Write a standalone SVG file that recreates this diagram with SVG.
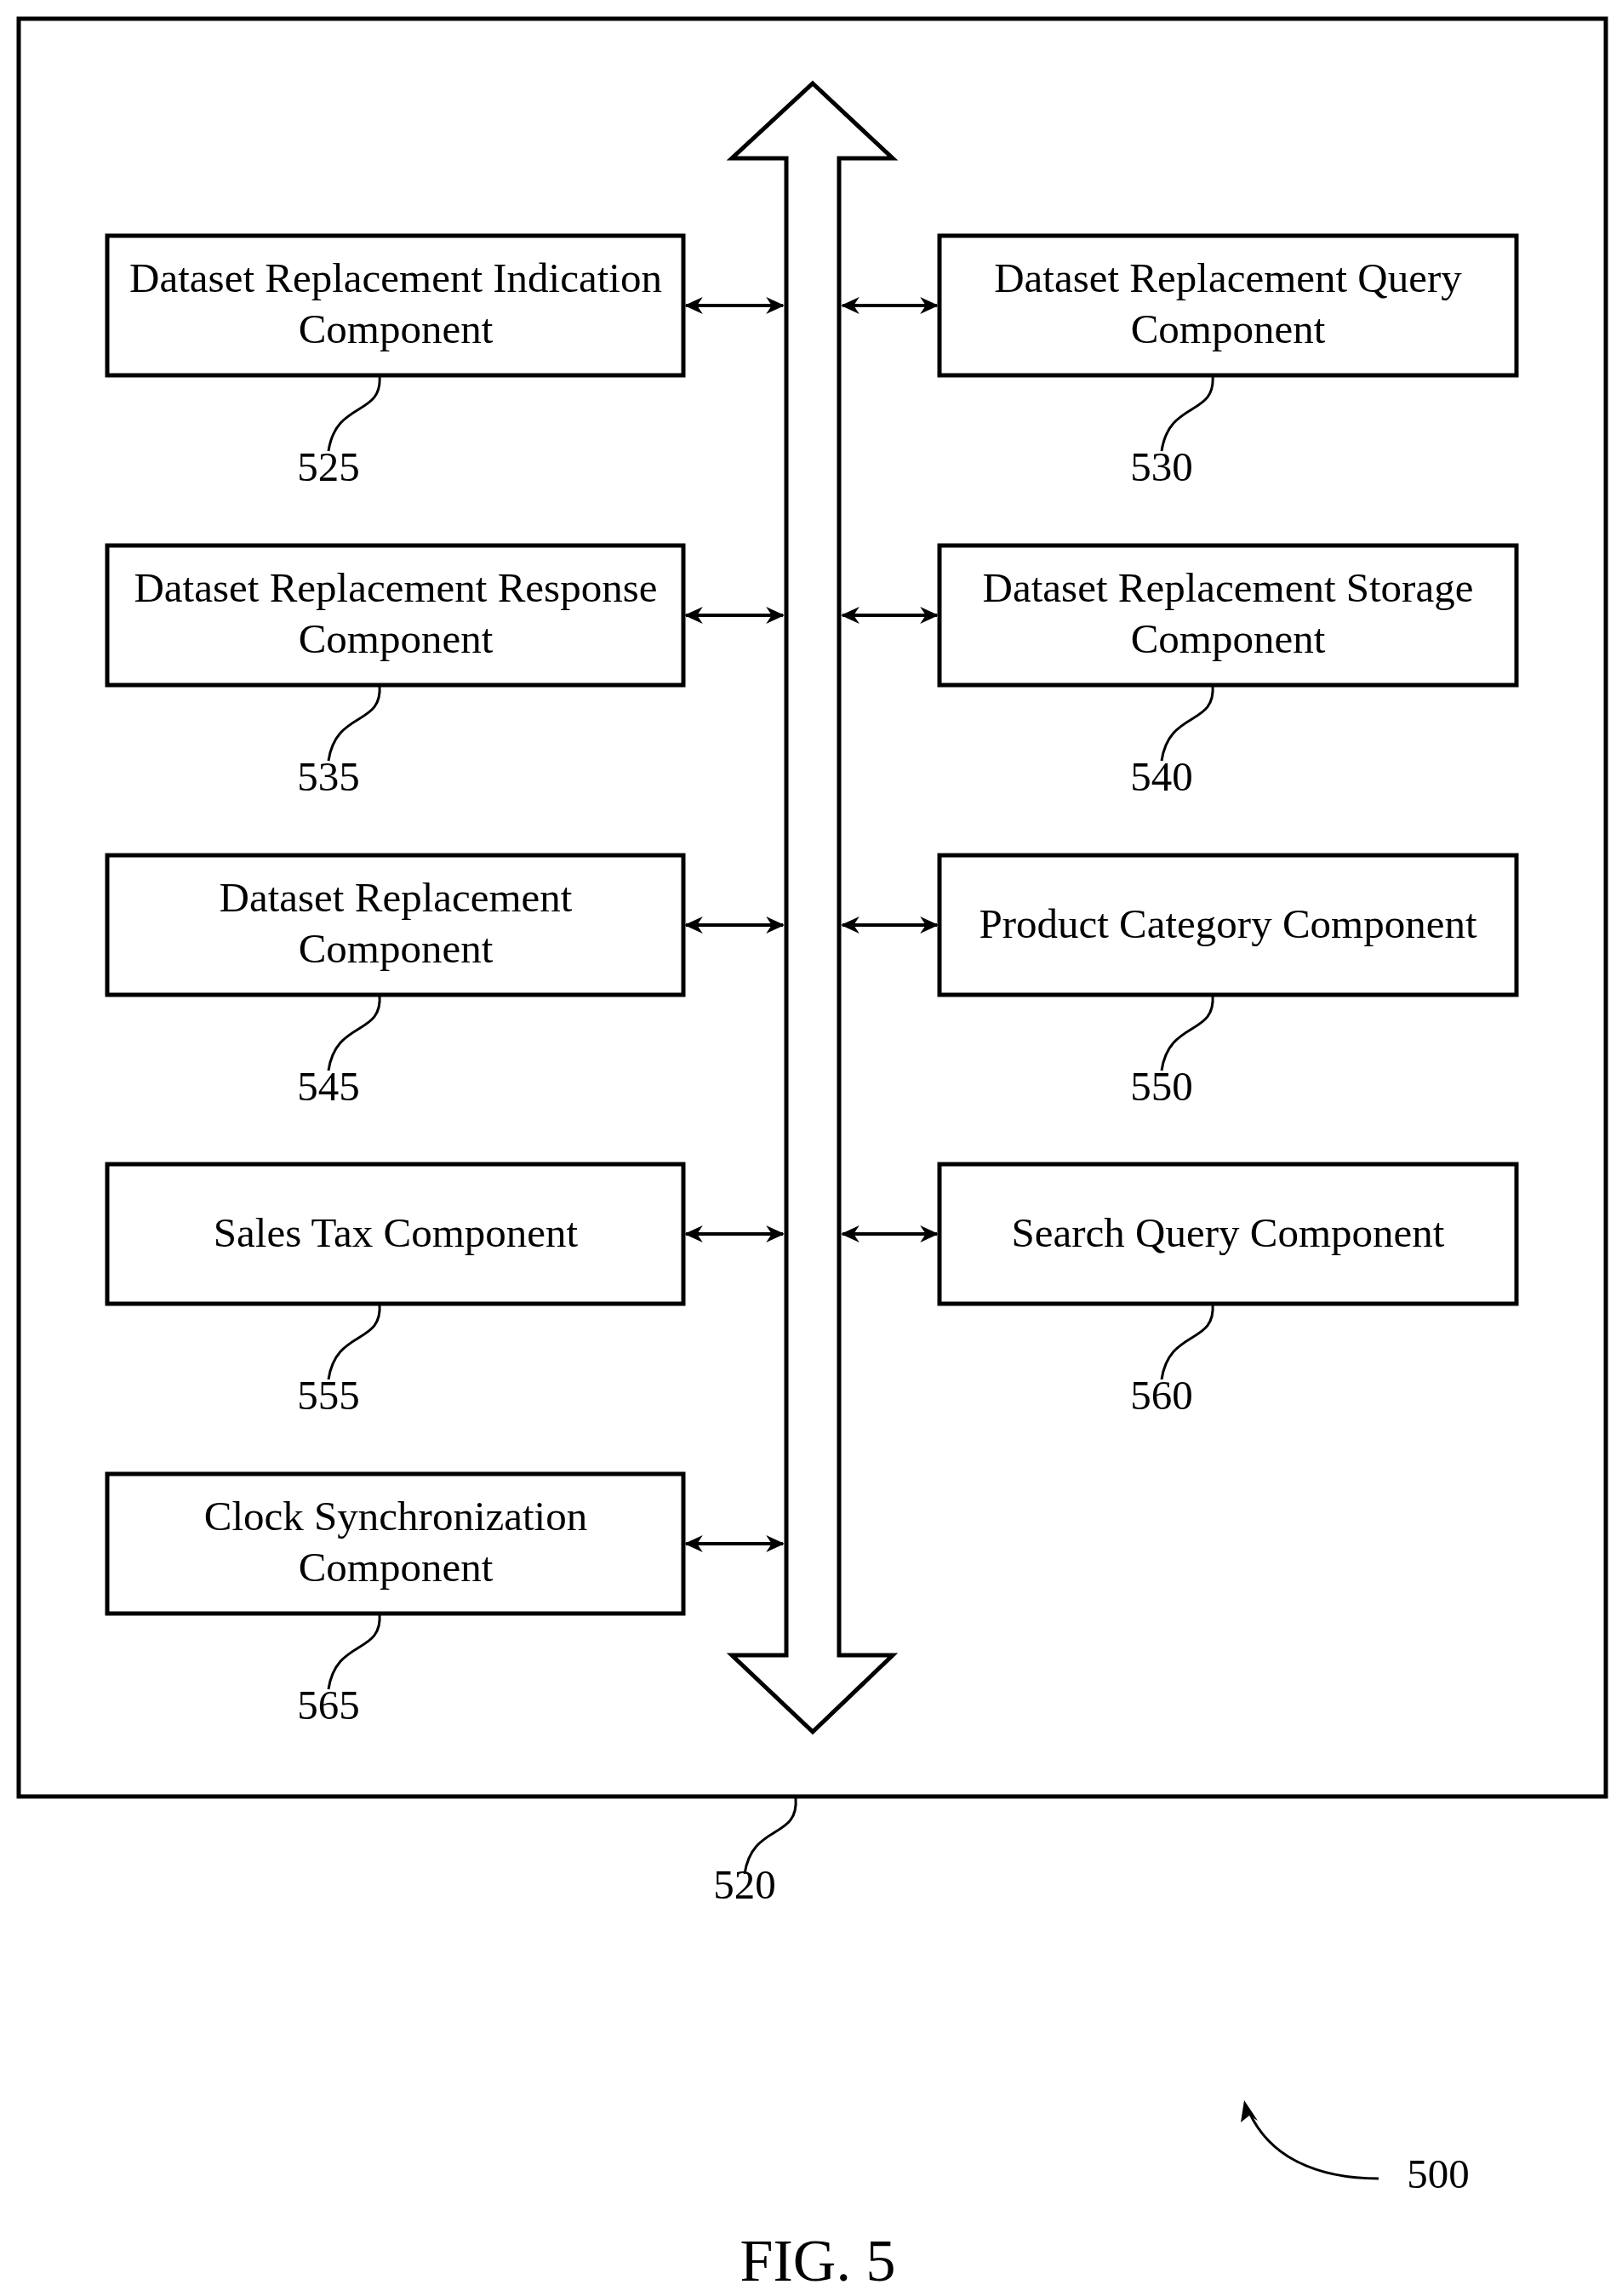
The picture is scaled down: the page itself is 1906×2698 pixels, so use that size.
<svg xmlns="http://www.w3.org/2000/svg" width="1906" height="2698" viewBox="0 0 1906 2698">
<style>
.b{fill:#fff;stroke:#000;stroke-width:5}
.t{font-family:"Liberation Serif",serif;font-size:49px;text-anchor:middle;fill:#000}
.l{fill:none;stroke:#000;stroke-width:3}
.c{stroke:#000;stroke-width:4;marker-start:url(#a);marker-end:url(#a)}
</style>
<defs><marker id="a" viewBox="0 0 20 20" refX="18" refY="10" markerWidth="22" markerHeight="22" orient="auto-start-reverse" markerUnits="userSpaceOnUse"><path d="M0,1 L20,10 L0,19 L6,10 Z"/></marker></defs>
<rect x="22" y="22" width="1865" height="2089" fill="none" stroke="#000" stroke-width="5"/>
<g id="bus"><path d="M955,98 L1049,186 L986,186 L986,1945 L1049,1945 L955,2035 L860,1945 L924,1945 L924,186 L860,186 Z" fill="#fff" stroke="#000" stroke-width="5" stroke-linejoin="miter"/></g>
<g id="connectors">
<line class="c" x1="806" y1="359" x2="920" y2="359"/><line class="c" x1="990" y1="359" x2="1101" y2="359"/>
<line class="c" x1="806" y1="723" x2="920" y2="723"/><line class="c" x1="990" y1="723" x2="1101" y2="723"/>
<line class="c" x1="806" y1="1087" x2="920" y2="1087"/><line class="c" x1="990" y1="1087" x2="1101" y2="1087"/>
<line class="c" x1="806" y1="1450" x2="920" y2="1450"/><line class="c" x1="990" y1="1450" x2="1101" y2="1450"/>
<line class="c" x1="806" y1="1814" x2="920" y2="1814"/>
</g>
<g id="n525"><rect class="b" x="126" y="277" width="677" height="164"/><text class="t" x="465" y="343">Dataset Replacement Indication</text><text class="t" x="465" y="403">Component</text><path class="l" d="M446,441 C450,490 395,470 386,530"/><text class="t" x="386" y="565">525</text></g>
<g id="n530"><rect class="b" x="1104" y="277" width="678" height="164"/><text class="t" x="1443" y="343">Dataset Replacement Query</text><text class="t" x="1443" y="403">Component</text><path class="l" d="M1425,441 C1429,490 1374,470 1365,530"/><text class="t" x="1365" y="565">530</text></g>
<g id="n535"><rect class="b" x="126" y="641" width="677" height="164"/><text class="t" x="465" y="707">Dataset Replacement Response</text><text class="t" x="465" y="767">Component</text><path class="l" d="M446,805 C450,854 395,834 386,894"/><text class="t" x="386" y="929">535</text></g>
<g id="n540"><rect class="b" x="1104" y="641" width="678" height="164"/><text class="t" x="1443" y="707">Dataset Replacement Storage</text><text class="t" x="1443" y="767">Component</text><path class="l" d="M1425,805 C1429,854 1374,834 1365,894"/><text class="t" x="1365" y="929">540</text></g>
<g id="n545"><rect class="b" x="126" y="1005" width="677" height="164"/><text class="t" x="465" y="1071">Dataset Replacement</text><text class="t" x="465" y="1131">Component</text><path class="l" d="M446,1169 C450,1218 395,1198 386,1258"/><text class="t" x="386" y="1293">545</text></g>
<g id="n550"><rect class="b" x="1104" y="1005" width="678" height="164"/><text class="t" x="1443" y="1102">Product Category Component</text><path class="l" d="M1425,1169 C1429,1218 1374,1198 1365,1258"/><text class="t" x="1365" y="1293">550</text></g>
<g id="n555"><rect class="b" x="126" y="1368" width="677" height="164"/><text class="t" x="465" y="1465">Sales Tax Component</text><path class="l" d="M446,1532 C450,1581 395,1561 386,1621"/><text class="t" x="386" y="1656">555</text></g>
<g id="n560"><rect class="b" x="1104" y="1368" width="678" height="164"/><text class="t" x="1443" y="1465">Search Query Component</text><path class="l" d="M1425,1532 C1429,1581 1374,1561 1365,1621"/><text class="t" x="1365" y="1656">560</text></g>
<g id="n565"><rect class="b" x="126" y="1732" width="677" height="164"/><text class="t" x="465" y="1798">Clock Synchronization</text><text class="t" x="465" y="1858">Component</text><path class="l" d="M446,1896 C450,1945 395,1925 386,1985"/><text class="t" x="386" y="2020">565</text></g>
<g id="n520"><path class="l" d="M935,2113 C939,2162 884,2142 875,2202"/><text class="t" x="875" y="2231">520</text></g>
<g id="n500"><path class="l" d="M1620,2560 C1540,2560 1490,2530 1468,2482"/><path d="M1462,2468 L1478,2492 L1468,2486 L1458,2494 Z"/><text class="t" x="1690" y="2571">500</text></g>
<text class="t" x="961" y="2680" style="font-size:70px">FIG. 5</text>
</svg>
